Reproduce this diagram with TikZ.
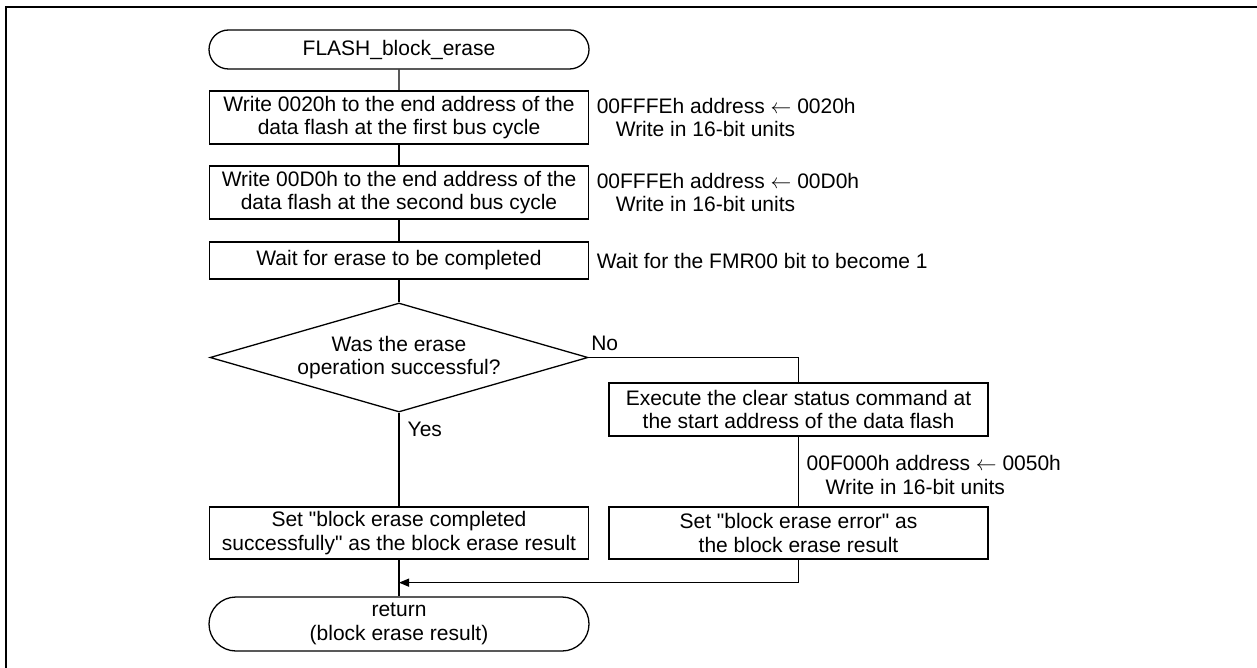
\documentclass[tikz,border=0pt]{standalone}
\usepackage{fontspec}
\setmainfont{Liberation Sans}
\usetikzlibrary{arrows.meta,positioning,shapes.geometric,shapes.misc}

\begin{document}
\begin{tikzpicture}[%
	x=1pt,y=-1pt,on grid,line width=1.3pt,>={Triangle[length=10pt,width=8pt]},
	font=\fontsize{21}{23.5}\selectfont,
	proc/.style={draw,rectangle,minimum width=379pt,minimum height=53pt,align=center,inner sep=0pt},
	term/.style={draw,rounded rectangle,minimum width=380pt,minimum height=39pt,align=center,inner sep=0pt},
	test/.style={draw,diamond,aspect=3.47,minimum width=378pt,minimum height=109pt,align=center,inner sep=0pt},
	note/.style={anchor=west,align=left,inner sep=0pt},
	lbl/.style={anchor=base west,inner sep=0pt}]

	\useasboundingbox (0,0) rectangle (1257,668);
	\draw[line width=2.5pt] (6,668) -- (6,7) -- (1257,7);

	\node[term]	(start)	at (399,49.5)	{FLASH\_block\_erase};
	\node[proc]	(w1)	[below=68pt of start]	{Write 0020h to the end address of the\\data flash at the first bus cycle};
	\node[proc]	(w2)	[below=75pt of w1]	{Write 00D0h to the end address of the\\data flash at the second bus cycle};
	\node[proc,minimum height=37pt]	(w3)	[below=68pt of w2]	{Wait for erase to be completed};
	\node[test]	(q)	[below=97pt of w3]	{Was the erase\\operation successful?};
	\node[proc,minimum height=52pt]	(ok)	[below=175.5pt of q]	{Set \textquotedbl block erase completed\\successfully\textquotedbl{} as the block erase result};
	\node[term,minimum height=54pt]	(ret)	[below=91pt of ok]	{return\\(block erase result)};

	\node[proc]	(clr)	at (798.5,409.5)	{Execute the clear status command at\\the start address of the data flash};
	\node[proc,minimum height=52pt]	(err)	[below=123.5pt of clr]	{Set \textquotedbl block erase error\textquotedbl{} as\\the block erase result};
	\coordinate[below=23pt of ok.south] (join);

	\node[note] (n1) at ([xshift=7pt]w1.east) {00FFFEh address $\leftarrow$ 0020h\\\hspace*{19pt}Write in 16-bit units};
	\node[note] (n2) at ([xshift=7pt]w2.east) {00FFFEh address $\leftarrow$ 00D0h\\\hspace*{19pt}Write in 16-bit units};
	\node[note] (n3) at ([xshift=7pt]w3.east) {Wait for the FMR00 bit to become 1};
	\node[note] (n4) at (806,475) {00F000h address $\leftarrow$ 0050h\\\hspace*{19pt}Write in 16-bit units};

	\node[lbl] (no)  at ([xshift=2pt,yshift=7.5pt]q.east)    {No};
	\node[lbl] (yes) at ([xshift=8pt,yshift=-23.5pt]q.south) {Yes};

	\draw (start) -- (w1);
	\draw (w1) -- (w2);
	\draw (w2) -- (w3);
	\draw (w3) -- (q);
	\draw (q) -- (ok);
	\draw (ok) -- (ret);
	\draw (q.east) -| (clr);
	\draw (clr) -- (err);
	\draw[->] (err.south) |- (join);

\end{tikzpicture}
\end{document}
